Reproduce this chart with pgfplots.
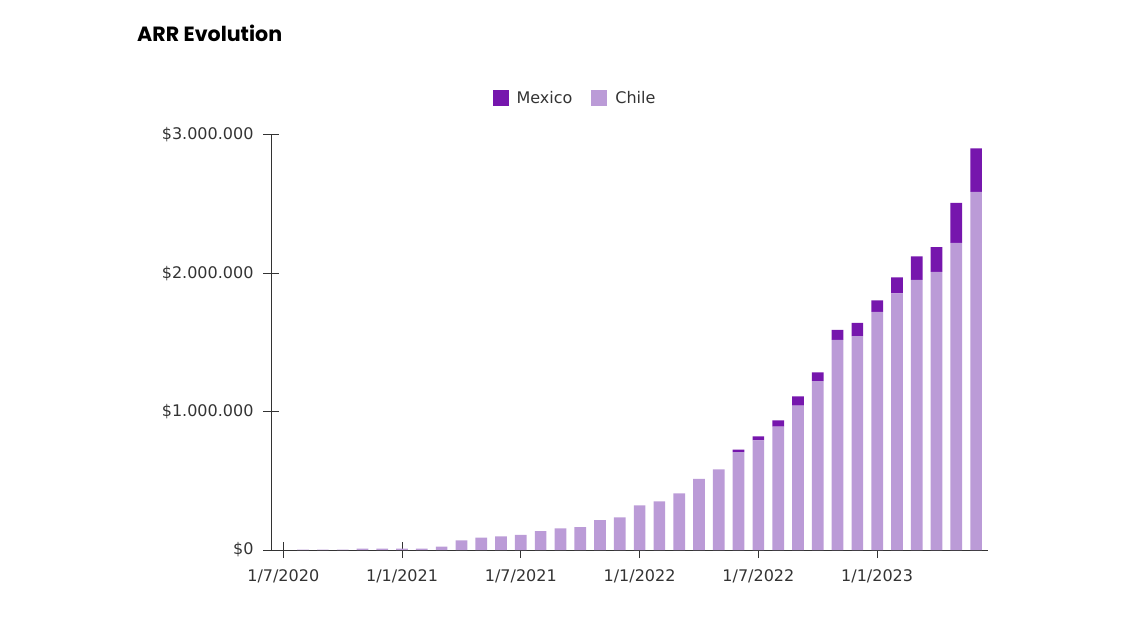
\documentclass[border=0pt]{standalone}
\usepackage{pgfplots}
\usepackage{pgfplotstable}
\pgfplotsset{compat=1.18}
\usepackage{fontspec}
\setmainfont{DejaVu Sans}
\newfontfamily\poppins{Poppins}
\definecolor{mex}{HTML}{7616AD}
\definecolor{chi}{HTML}{BB9BD7}
\definecolor{axc}{HTML}{333333}

\pgfplotstableread{
k chile mexico
0 0 0
1 2000 0
2 2000 0
3 2000 0
4 10000 0
5 10000 0
6 10000 0
7 10000 0
8 24000 0
9 70000 0
10 89000 0
11 99000 0
12 110000 0
13 137000 0
14 156000 0
15 166000 0
16 216000 0
17 236000 0
18 322000 0
19 352000 0
20 409000 0
21 514000 0
22 582000 0
23 707000 19000
24 793000 29000
25 892000 45000
26 1043000 68000
27 1221000 63000
28 1519000 72000
29 1546000 96000
30 1721000 84000
31 1856000 115000
32 1952000 171000
33 2010000 180000
34 2221000 289000
35 2589000 315000
}\arrdata

\pgfplotsset{sqlegend/.style={legend image code/.code={\fill[#1] (0pt,-8pt) rectangle (16pt,8pt);}}}

\begin{document}
\begin{tikzpicture}
\path[use as bounding box] (0,0) rectangle (1125pt,625pt);
\node[anchor=west, inner sep=0pt, font=\poppins\bfseries\fontsize{20.6}{24}\selectfont] at (137pt,592pt) {ARR Evolution};
\begin{axis}[
  at={(271pt,75pt)}, anchor=south west,
  scale only axis, width=717pt, height=415pt,
  xmin=-0.62, xmax=35.6, ymin=0, ymax=3000000,
  ybar stacked, bar width=11.7pt,
  sqlegend,
  axis lines=left, axis line style={-, axc, line width=1pt},
  tick align=center, major tick length=16pt, tick style={axc, line width=1pt},
  xtick={0,6,12,18,24,30},
  xticklabels={1/7/2020,1/1/2021,1/7/2021,1/1/2022,1/7/2022,1/1/2023},
  ytick={0,1000000,2000000,3000000},
  yticklabels={\$0,\$1.000.000,\$2.000.000,\$3.000.000},
  minor tick num=0,
  ticklabel style={font=\fontsize{16}{19}\selectfont, text=axc},
  xticklabel style={yshift=-8pt},
  yticklabel style={xshift=-6pt},
  scaled y ticks=false,
  legend columns=2, reverse legend,
  legend style={at={(0.424,1.089)}, anchor=center, draw=none, fill=none,
    font=\fontsize{16}{19}\selectfont, text=axc,
    /tikz/every odd column/.append style={column sep=6pt},
    /tikz/every even column/.append style={column sep=17pt}},
]
\addplot[fill=chi, draw=none, sqlegend] table[x=k,y=chile]{\arrdata};
\addplot[fill=mex, draw=none, sqlegend] table[x=k,y=mexico]{\arrdata};
\legend{Chile,Mexico}
\end{axis}
\end{tikzpicture}
\end{document}
